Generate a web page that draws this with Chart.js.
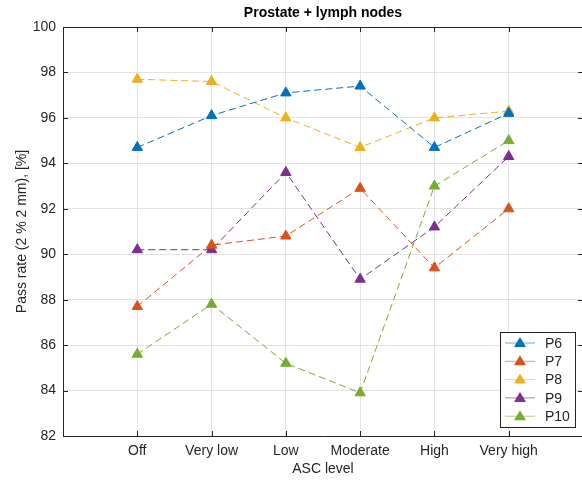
<!DOCTYPE html>
<html>
<head>
<meta charset="utf-8">
<script src="https://cdn.jsdelivr.net/npm/chart.js@4"></script>
<style>
  html, body { margin: 0; padding: 0; background: #fff; overflow: hidden; }
</style>
</head>
<body>
<canvas id="myChart" width="590" height="480"></canvas>
<script>
// categories and series
var levels = ['Off', 'Very low', 'Low', 'Moderate', 'High', 'Very high'];
var seriesNames = ['P6', 'P7', 'P8', 'P9', 'P10'];
var p6  = [94.7, 96.1, 97.1, 97.4, 94.7, 96.2];
var p7  = [87.7, 90.4, 90.8, 92.9, 89.4, 92.0];
var p8  = [97.7, 97.6, 96.0, 94.7, 96.0, 96.3];
var p9  = [90.2, 90.2, 93.6, 88.9, 91.2, 94.3];
var p10 = [85.6, 87.8, 85.2, 83.9, 93.0, 95.0];
var yTicks = [82, 84, 86, 88, 90, 92, 94, 96, 98, 100];
var colors = ['#0072BD', '#D95319', '#EDB120', '#7E2F8E', '#77AC30'];

var FONT = 'Liberation Sans, Arial, Helvetica, sans-serif';

function toPoints(arr) {
  return arr.map(function (v, i) { return { x: i + 1, y: v }; });
}

var datasets = [p6, p7, p8, p9, p10].map(function (arr, i) {
  return {
    label: seriesNames[i],
    data: toPoints(arr),
    borderColor: colors[i],
    backgroundColor: colors[i],
    borderWidth: 1,
    borderDash: [7, 4],
    pointStyle: 'triangle',
    pointRadius: 6,
    pointHoverRadius: 6,
    pointBorderWidth: 1,
    fill: false,
    tension: 0
  };
});

// matlab-ish frame: inward ticks, box, title, legend inside the axes
var matlabFrame = {
  id: 'matlabFrame',
  afterDraw: function (chart) {
    var ctx = chart.ctx;
    var a = chart.chartArea;
    var xs = chart.scales.x, ys = chart.scales.y;
    ctx.save();
    ctx.strokeStyle = '#262626';
    ctx.lineWidth = 1;
    ctx.beginPath();
    ctx.rect(a.left + 0.5, a.top + 0.5, a.right - a.left, a.bottom - a.top);
    ctx.stroke();
    ctx.beginPath();
    for (var i = 1; i <= levels.length; i++) {
      var px = Math.round(xs.getPixelForValue(i)) + 0.5;
      ctx.moveTo(px, a.bottom); ctx.lineTo(px, a.bottom - 5);
      ctx.moveTo(px, a.top); ctx.lineTo(px, a.top + 5);
    }
    yTicks.forEach(function (t) {
      var py = Math.round(ys.getPixelForValue(t)) + 0.5;
      ctx.moveTo(a.left, py); ctx.lineTo(a.left + 5, py);
      ctx.moveTo(a.right, py); ctx.lineTo(a.right - 5, py);
    });
    ctx.stroke();

    // title
    ctx.fillStyle = '#000';
    ctx.font = 'bold 14px ' + FONT;
    ctx.textAlign = 'center';
    ctx.textBaseline = 'middle';
    ctx.fillText('Prostate + lymph nodes', (a.left + a.right) / 2, 13);

    // legend
    var bx = 500, by = 332, bw = 75, bh = 95;
    ctx.fillStyle = '#fff';
    ctx.fillRect(bx, by, bw, bh);
    ctx.strokeStyle = '#262626';
    ctx.strokeRect(bx + 0.5, by + 0.5, bw, bh);
    ctx.font = '14px ' + FONT;
    ctx.textAlign = 'left';
    seriesNames.forEach(function (name, i) {
      var cy = by + 11 + i * 18.3;
      ctx.strokeStyle = colors[i];
      ctx.globalAlpha = 0.6;
      ctx.beginPath();
      ctx.moveTo(bx + 5, cy); ctx.lineTo(bx + 35, cy);
      ctx.stroke();
      ctx.globalAlpha = 1;
      ctx.fillStyle = colors[i];
      ctx.beginPath();
      ctx.moveTo(bx + 20, cy - 6);
      ctx.lineTo(bx + 26, cy + 4);
      ctx.lineTo(bx + 14, cy + 4);
      ctx.closePath();
      ctx.fill();
      ctx.fillStyle = '#262626';
      ctx.fillText(name, bx + 45, cy + 1);
    });
    ctx.restore();
  }
};

var ctx = document.getElementById('myChart').getContext('2d');
var chart = new Chart(ctx, {
  type: 'line',
  data: { datasets: datasets },
  plugins: [matlabFrame],
  options: {
    responsive: false,
    animation: false,
    devicePixelRatio: 1,
    layout: { padding: { left: 0, top: 27, right: 5, bottom: 0 } },
    plugins: {
      legend: { display: false },
      title: { display: false },
      tooltip: { enabled: false }
    },
    scales: {
      x: {
        type: 'linear',
        min: 0,
        max: 7,
        afterFit: function (s) { s.height = 44; },
        afterBuildTicks: function (s) {
          s.ticks = [0, 1, 2, 3, 4, 5, 6, 7].map(function (v) { return { value: v }; });
        },
        border: { display: false },
        grid: {
          drawTicks: false,
          color: function (c) {
            var v = c.tick && c.tick.value;
            return (v >= 1 && v <= levels.length) ? '#e3e3e3' : 'rgba(0,0,0,0)';
          }
        },
        ticks: {
          padding: 7,
          color: '#262626',
          font: { family: FONT, size: 14 },
          maxRotation: 0,
          autoSkip: false,
          callback: function (v) { return levels[v - 1] || ''; }
        },
        title: {
          display: true,
          text: 'ASC level',
          color: '#262626',
          font: { family: FONT, size: 14 },
          padding: { top: 0, bottom: 2 }
        }
      },
      y: {
        min: 82,
        max: 100,
        afterFit: function (s) { s.width = 63; },
        afterBuildTicks: function (s) {
          s.ticks = yTicks.map(function (v) { return { value: v }; });
        },
        border: { display: false },
        grid: {
          drawTicks: false,
          color: function (c) {
            var v = c.tick && c.tick.value;
            return (v > 82 && v < 100) ? '#e3e3e3' : 'rgba(0,0,0,0)';
          }
        },
        ticks: {
          padding: 7,
          color: '#262626',
          font: { family: FONT, size: 14 }
        },
        title: {
          display: true,
          text: 'Pass rate (2 % 2 mm), [%]',
          color: '#262626',
          font: { family: FONT, size: 14 },
          padding: { top: 14, bottom: 0 }
        }
      }
    }
  }
});
</script>
</body>
</html>
